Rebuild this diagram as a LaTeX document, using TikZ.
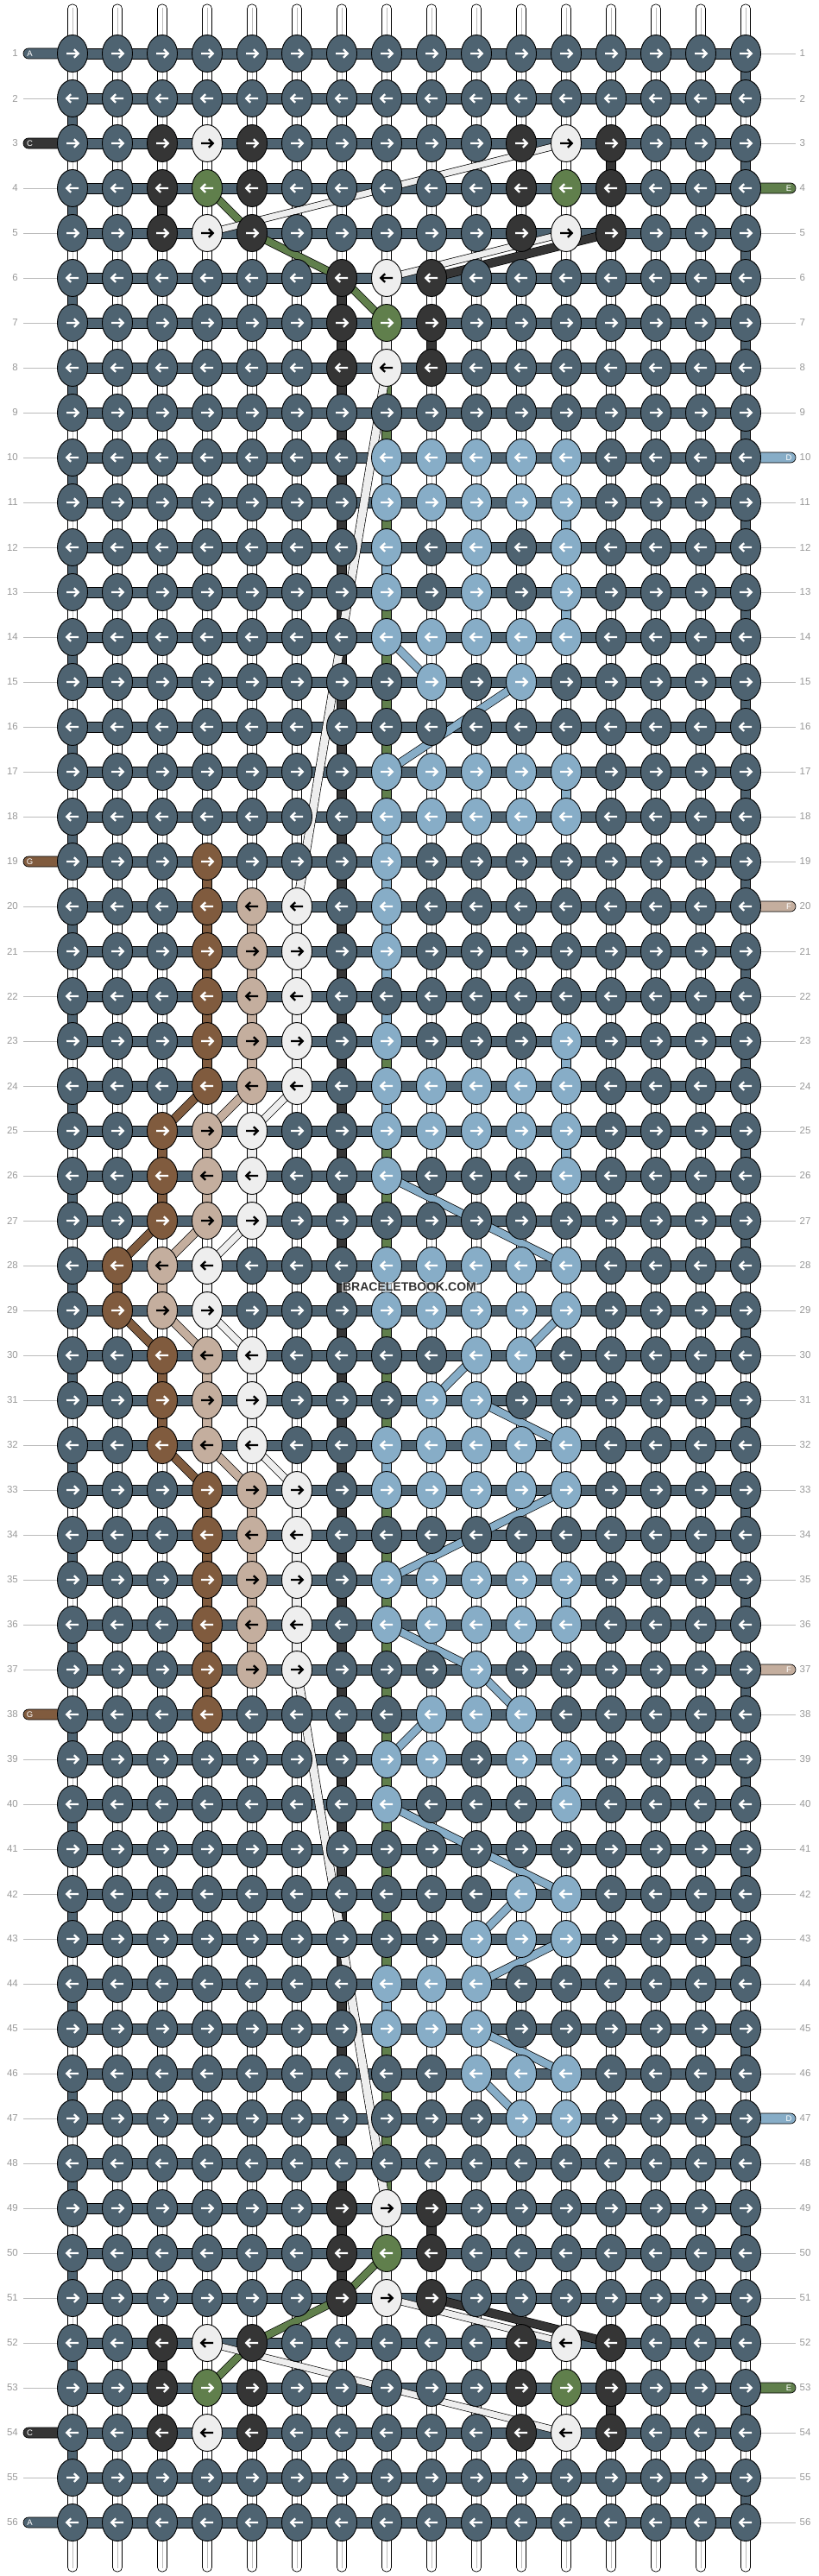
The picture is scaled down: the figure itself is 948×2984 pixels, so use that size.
\documentclass[tikz,border=0pt]{standalone}
\usepackage{fontspec}
\setmainfont{Liberation Sans}
\usetikzlibrary{shapes.geometric}
\definecolor{colA}{HTML}{4E6371}
\definecolor{colC}{HTML}{353535}
\definecolor{colW}{HTML}{EEEEEE}
\definecolor{colE}{HTML}{607F4C}
\definecolor{colD}{HTML}{87ADC7}
\definecolor{colG}{HTML}{805B3E}
\definecolor{colF}{HTML}{C4AE9E}
\colorlet{arrA}{white}\colorlet{arrC}{white}\colorlet{arrE}{white}
\colorlet{arrD}{white}\colorlet{arrG}{white}\colorlet{arrW}{black}\colorlet{arrF}{black}
\definecolor{lblgray}{HTML}{999999}
\definecolor{linegray}{HTML}{BBBBBB}
\pgfdeclarelayer{background}
\pgfdeclarelayer{bars}
\pgfdeclarelayer{strands}
\pgfsetlayers{background,bars,strands,main}
\newcommand\mygap[3]{%
  \pgfmathsetmacro\gx{32+52*#1}\pgfmathsetmacro\gya{25+52*#2}\pgfmathsetmacro\gyb{47+52*#2}%
  \filldraw[fill=#3, draw=black, line width=0.7pt] ({\gx-5.5},\gya) rectangle ({\gx+5.5},\gyb);}
\begin{document}
\begin{tikzpicture}[x=1pt,y=-1pt,
  knot/.style={ellipse, draw=black, line width=0.9pt, fill=col#1, minimum width=35pt, minimum height=43pt, inner sep=0pt},
  arrowline/.style={line width=2.3pt, line join=miter},
  strand/.style={line width=0.7pt, draw=black, double distance=#1},
  rowlbl/.style={text=lblgray, font=\fontsize{11.5}{12}\selectfont, inner sep=0pt},
  lblline/.style={draw=linegray, line width=0.8pt},
  tabtxt/.style={text=white, font=\fontsize{9.5}{10}\selectfont, inner sep=0pt},
  edgeline/.style={draw=black, line width=0.7pt},
  tabbar/.style={draw=black, line width=0.7pt, rounded corners=6pt},
]
\useasboundingbox (0,0) rectangle (948,2984);
\begin{pgfonlayer}{background}
\fill[white] (0,0) rectangle (948,2984);
\end{pgfonlayer}

% ---------- bars, gaps, strips, tabs ----------
\begin{pgfonlayer}{bars}
\foreach \c in {1,...,16} {
  \pgfmathsetmacro\xx{32+52*\c}
  \filldraw[fill=white, draw=black, line width=0.7pt, rounded corners=5pt] ({\xx-5.5},5) rectangle ({\xx+5.5},70);
  \draw[draw=linegray, line width=0.8pt] (\xx,9) -- (\xx,70);
  \filldraw[fill=white, draw=black, line width=0.7pt, rounded corners=5pt] ({\xx-5.5},2914) rectangle ({\xx+5.5},2979);
  \draw[draw=linegray, line width=0.8pt] (\xx,2914) -- (\xx,2975);
}
\foreach \r in {1,...,56} {
  \pgfmathsetmacro\yy{10+52*\r}
  \fill[colA] (84,{\yy-6}) rectangle (864,{\yy+6});
  \draw[edgeline] (84,{\yy-6}) -- (864,{\yy-6}) (84,{\yy+6}) -- (864,{\yy+6});
}
\foreach \r in {1,...,55} {
  \pgfmathsetmacro\ya{25+52*\r}\pgfmathsetmacro\yb{47+52*\r}
  \foreach \c in {1,...,16} {
    \pgfmathsetmacro\xx{32+52*\c}
    \fill[white] ({\xx-5.5},\ya) rectangle ({\xx+5.5},\yb);
    \draw[edgeline] ({\xx-5.5},\ya) -- ({\xx-5.5},\yb) ({\xx+5.5},\ya) -- ({\xx+5.5},\yb);
    \draw[draw=linegray, line width=0.8pt] (\xx,\ya) -- (\xx,\yb);
  }
}
% coloured gaps
\foreach \r in {2,4,...,54} {\mygap{1}{\r}{colA}}
\foreach \r in {1,3,...,55} {\mygap{16}{\r}{colA}}
\foreach \r in {6,...,50} {\mygap{7}{\r}{colC}}
\mygap{9}{7}{colC}\mygap{9}{49}{colC}
\mygap{3}{4}{colC}\mygap{3}{52}{colC}
\mygap{13}{3}{colC}\mygap{13}{53}{colC}
\foreach \r in {6,7,49,50} {\mygap{8}{\r}{colW}}
\foreach \r in {8,...,48} {\mygap{8}{\r}{colE}}
\foreach \r in {10,12,18,19,20,21,22,24,28,32,44} {\mygap{8}{\r}{colD}}
\foreach \r in {11,13,17,23,25,35,39} {\mygap{12}{\r}{colD}}
\foreach \c/\r in {4/19,4/20,4/21,4/22,4/23,3/25,3/26,2/28,3/30,3/31,4/33,4/34,4/35,4/36,4/37} {\mygap{\c}{\r}{colG}}
\foreach \c/\r in {5/20,5/21,5/22,5/23,4/25,4/26,3/28,4/30,4/31,5/33,5/34,5/35,5/36} {\mygap{\c}{\r}{colF}}
\foreach \c/\r in {6/20,6/21,6/22,6/23,5/25,5/26,4/28,5/30,5/31,6/33,6/34,6/35,6/36} {\mygap{\c}{\r}{colW}}
% tabs
\foreach \r/\t in {1/A,3/C,19/G,38/G,54/C,56/A} {
  \pgfmathsetmacro\yy{10+52*\r}
  \filldraw[tabbar, fill=col\t] (27,{\yy-6}) rectangle (95,{\yy+6});
}
\foreach \r/\t in {4/E,10/D,20/F,37/F,47/D,53/E} {
  \pgfmathsetmacro\yy{10+52*\r}
  \filldraw[tabbar, fill=col\t] (853,{\yy-6}) rectangle (922,{\yy+6});
}
\end{pgfonlayer}

% ---------- knots ----------
\foreach \r/\lst in {
1/{A,A,A,A,A,A,A,A,A,A,A,A,A,A,A,A},
2/{A,A,A,A,A,A,A,A,A,A,A,A,A,A,A,A},
3/{A,A,C,W,C,A,A,A,A,A,C,W,C,A,A,A},
4/{A,A,C,E,C,A,A,A,A,A,C,E,C,A,A,A},
5/{A,A,C,W,C,A,A,A,A,A,C,W,C,A,A,A},
6/{A,A,A,A,A,A,C,W,C,A,A,A,A,A,A,A},
7/{A,A,A,A,A,A,C,E,C,A,A,A,A,A,A,A},
8/{A,A,A,A,A,A,C,W,C,A,A,A,A,A,A,A},
9/{A,A,A,A,A,A,A,A,A,A,A,A,A,A,A,A},
10/{A,A,A,A,A,A,A,D,D,D,D,D,A,A,A,A},
11/{A,A,A,A,A,A,A,D,D,D,D,D,A,A,A,A},
12/{A,A,A,A,A,A,A,D,A,D,A,D,A,A,A,A},
13/{A,A,A,A,A,A,A,D,A,D,A,D,A,A,A,A},
14/{A,A,A,A,A,A,A,D,D,D,D,D,A,A,A,A},
15/{A,A,A,A,A,A,A,A,D,A,D,A,A,A,A,A},
16/{A,A,A,A,A,A,A,A,A,A,A,A,A,A,A,A},
17/{A,A,A,A,A,A,A,D,D,D,D,D,A,A,A,A},
18/{A,A,A,A,A,A,A,D,D,D,D,D,A,A,A,A},
19/{A,A,A,G,A,A,A,D,A,A,A,A,A,A,A,A},
20/{A,A,A,G,F,W,A,D,A,A,A,A,A,A,A,A},
21/{A,A,A,G,F,W,A,D,A,A,A,A,A,A,A,A},
22/{A,A,A,G,F,W,A,A,A,A,A,A,A,A,A,A},
23/{A,A,A,G,F,W,A,D,A,A,A,D,A,A,A,A},
24/{A,A,A,G,F,W,A,D,D,D,D,D,A,A,A,A},
25/{A,A,G,F,W,A,A,D,D,D,D,D,A,A,A,A},
26/{A,A,G,F,W,A,A,D,A,A,A,D,A,A,A,A},
27/{A,A,G,F,W,A,A,A,A,A,A,A,A,A,A,A},
28/{A,G,F,W,A,A,A,D,D,D,D,D,A,A,A,A},
29/{A,G,F,W,A,A,A,D,D,D,D,D,A,A,A,A},
30/{A,A,G,F,W,A,A,A,A,D,D,A,A,A,A,A},
31/{A,A,G,F,W,A,A,A,D,D,A,A,A,A,A,A},
32/{A,A,G,F,W,A,A,D,D,D,D,D,A,A,A,A},
33/{A,A,A,G,F,W,A,D,D,D,D,D,A,A,A,A},
34/{A,A,A,G,F,W,A,A,A,A,A,A,A,A,A,A},
35/{A,A,A,G,F,W,A,D,D,D,D,D,A,A,A,A},
36/{A,A,A,G,F,W,A,D,D,D,D,D,A,A,A,A},
37/{A,A,A,G,F,W,A,A,A,D,A,A,A,A,A,A},
38/{A,A,A,G,A,A,A,A,D,D,D,A,A,A,A,A},
39/{A,A,A,A,A,A,A,D,D,A,D,D,A,A,A,A},
40/{A,A,A,A,A,A,A,D,A,A,A,D,A,A,A,A},
41/{A,A,A,A,A,A,A,A,A,A,A,A,A,A,A,A},
42/{A,A,A,A,A,A,A,A,A,A,D,D,A,A,A,A},
43/{A,A,A,A,A,A,A,A,A,D,D,D,A,A,A,A},
44/{A,A,A,A,A,A,A,D,D,D,A,A,A,A,A,A},
45/{A,A,A,A,A,A,A,D,D,D,A,A,A,A,A,A},
46/{A,A,A,A,A,A,A,A,A,D,D,D,A,A,A,A},
47/{A,A,A,A,A,A,A,A,A,A,D,D,A,A,A,A},
48/{A,A,A,A,A,A,A,A,A,A,A,A,A,A,A,A},
49/{A,A,A,A,A,A,C,W,C,A,A,A,A,A,A,A},
50/{A,A,A,A,A,A,C,E,C,A,A,A,A,A,A,A},
51/{A,A,A,A,A,A,C,W,C,A,A,A,A,A,A,A},
52/{A,A,C,W,C,A,A,A,A,A,C,W,C,A,A,A},
53/{A,A,C,E,C,A,A,A,A,A,C,E,C,A,A,A},
54/{A,A,C,W,C,A,A,A,A,A,C,W,C,A,A,A},
55/{A,A,A,A,A,A,A,A,A,A,A,A,A,A,A,A},
56/{A,A,A,A,A,A,A,A,A,A,A,A,A,A,A,A}} {
  \pgfmathsetmacro\yy{10+52*\r}
  \pgfmathsetmacro\s{1-2*mod(\r+1,2)}
  \foreach \k [count=\c] in \lst {
    \pgfmathsetmacro\xx{32+52*\c}
    \node[knot=\k] (n-\r-\c) at (\xx,\yy) {};
    \draw[arrowline, draw=arr\k] ({\xx-7*\s},\yy) -- ({\xx+6.2*\s},\yy)
      ({\xx+1.8*\s},{\yy-4.8}) -- ({\xx+6.8*\s},\yy) -- ({\xx+1.8*\s},{\yy+4.8});
  }
}

% ---------- strands (under knots) ----------
\begin{pgfonlayer}{strands}
\foreach \a/\b/\c/\d in {24/4/25/3,27/3/28/2,29/2/30/3,32/3/33/4}
  {\draw[strand=9pt, double=colG] (n-\a-\b.center) -- (n-\c-\d.center);}
\foreach \a/\b/\c/\d in {24/5/25/4,27/4/28/3,29/3/30/4,32/4/33/5}
  {\draw[strand=9pt, double=colF] (n-\a-\b.center) -- (n-\c-\d.center);}
\foreach \a/\b/\c/\d in {24/6/25/5,27/5/28/4,29/4/30/5,32/5/33/6}
  {\draw[strand=7.5pt, double=colW] (n-\a-\b.center) -- (n-\c-\d.center);}
\foreach \a/\b/\c/\d in {14/8/15/9,15/11/17/8,26/8/28/12,29/12/30/11,30/10/31/9,31/10/32/12,33/12/35/8,36/8/37/10,37/10/38/11,38/9/39/8,40/8/42/12,42/11/43/10,43/12/44/10,45/10/46/12,46/10/47/11}
  {\draw[strand=8.5pt, double=colD] (n-\a-\b.center) -- (n-\c-\d.center);}
\draw[strand=8pt, double=colE] (n-4-4.center) -- (n-5-5.center) -- (n-6-7.center) -- (n-7-8.center);
\draw[strand=8pt, double=colE] (n-50-8.center) -- (n-51-7.center) -- (n-52-5.center) -- (n-53-4.center);
\draw[strand=9pt, double=colC] (n-6-9.center) -- (n-5-13.center);
\draw[strand=9pt, double=colC] (n-51-9.center) -- (n-52-13.center);
\draw[strand=7pt, double=colW] (n-5-4.center) -- (n-3-12.center);
\draw[strand=7pt, double=colW] (n-6-8.center) -- (n-5-12.center);
\draw[strand=7pt, double=colW] (n-52-4.center) -- (n-54-12.center);
\draw[strand=7pt, double=colW] (n-51-8.center) -- (n-52-12.center);
\draw[strand=9pt, double=colW] (n-8-8.center) -- (n-20-6.center);
\draw[strand=9pt, double=colW] (n-37-6.center) -- (n-49-8.center);
\end{pgfonlayer}

% ---------- labels ----------
\foreach \r in {1,...,56} {
  \pgfmathsetmacro\yy{10+52*\r}
  \node[rowlbl, anchor=east] (ll-\r) at (21,\yy) {\r};
  \node[rowlbl, anchor=west] (rl-\r) at (926.5,\yy) {\r};
}
\foreach \r in {2,4,5,...,18,20,21,...,37,39,40,...,53,55} {
  \draw[lblline] ([xshift=6pt]ll-\r.east) -- (n-\r-1.west);
}
\foreach \r in {1,2,3,5,6,...,9,11,12,...,19,21,22,...,36,38,39,...,46,48,49,...,52,54,55,56} {
  \draw[lblline] (n-\r-16.east) -- ([xshift=-4.5pt]rl-\r.west);
}
\foreach \r/\t in {1/A,3/C,19/G,38/G,54/C,56/A} {
  \pgfmathsetmacro\yy{10+52*\r}
  \node[tabtxt] (lt-\r) at (34.5,\yy) {\t};
}
\foreach \r/\t in {4/E,10/D,20/F,37/F,47/D,53/E} {
  \pgfmathsetmacro\yy{10+52*\r}
  \node[tabtxt] (rt-\r) at (914,\yy) {\t};
}
\node[font=\bfseries\fontsize{14}{14}\selectfont, text=black!80, fill=white, fill opacity=0.55, text opacity=1, inner sep=1pt] (wm) at (474.5,1491) {BRACELETBOOK.COM};
\end{tikzpicture}
\end{document}
